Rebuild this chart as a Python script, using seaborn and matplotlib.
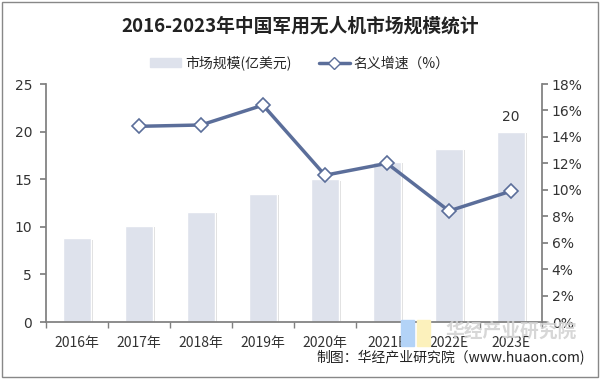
import matplotlib
matplotlib.use("Agg")
import matplotlib.pyplot as plt
import seaborn as sns
import pandas as pd
import numpy as np
from matplotlib.patches import Rectangle
from matplotlib.lines import Line2D
from matplotlib.ticker import FuncFormatter, MultipleLocator, FixedLocator

years = ["2016年", "2017年", "2018年", "2019年", "2020年", "2021E", "2022E", "2023E"]
market = [8.8, 10.1, 11.55, 13.45, 15.0, 16.8, 18.2, 20.0]
growth = [np.nan, 14.8, 14.9, 16.4, 11.1, 12.0, 8.4, 9.9]

sns.set_theme(style="white")
plt.rcParams['font.family'] = ['Noto Sans CJK SC', 'DejaVu Sans']

bar_color = "#DEE2EC"
line_color = "#5B6E9A"
grey = "#7F7F7F"

df = pd.DataFrame({"year": years, "market": market, "growth": growth})

fig = plt.figure(figsize=(6, 3.79), dpi=100)
ax = fig.add_axes([46/600, 57/379, 496/600, 238/379])
x = np.arange(len(years))

# shadows
for xi, v in zip(x, market):
    ax.add_patch(Rectangle((xi - 0.225 + 0.04, 0), 0.45, v - 0.15, color="#C4C4C4", alpha=0.6, zorder=1, lw=0))
sns.barplot(data=df, x="year", y="market", color=bar_color, width=0.45, ax=ax, zorder=2, saturation=1)
ax.set_ylim(0, 25)
ax.set_xlim(-0.5, len(years) - 0.5)
ax.yaxis.set_major_locator(MultipleLocator(5))
ax.set_xlabel("")
ax.set_ylabel("")
ax.text(x[-1], market[-1] + 0.8, f"{market[-1]:.0f}", ha="center", va="bottom", fontsize=10, color="#333333", family="DejaVu Sans")

ax2 = ax.twinx()
sns.lineplot(x=x, y=df["growth"], ax=ax2, color=line_color, lw=2.5, marker="D", markersize=7,
             markerfacecolor="white", markeredgecolor=line_color, markeredgewidth=1.2, zorder=5)
ax2.set_ylim(0, 18)
ax2.yaxis.set_major_locator(MultipleLocator(2))
ax2.yaxis.set_major_formatter(FuncFormatter(lambda v, p: f"{v:.0f}%"))
ax2.set_ylabel("")

for a in (ax, ax2):
    for s in a.spines.values():
        s.set_visible(False)
ax.spines["left"].set_visible(True)
ax.spines["left"].set_color(grey)
ax.spines["bottom"].set_visible(True)
ax.spines["bottom"].set_color(grey)
ax2.spines["right"].set_visible(True)
ax2.spines["right"].set_color(grey)

ax.tick_params(axis="y", left=True, length=4, color=grey, labelsize=10, labelcolor="#333333", pad=6)
ax2.tick_params(axis="y", right=True, length=4, color=grey, labelsize=10, labelcolor="#333333", pad=3)
ax.set_xticks(x)
ax.set_xticklabels(years)
ax.xaxis.set_minor_locator(FixedLocator(np.arange(-0.5, len(years), 1)))
ax.tick_params(axis="x", which="major", bottom=False, labelsize=10, labelcolor="#333333", pad=4)
ax.tick_params(axis="x", which="minor", bottom=True, length=4, color=grey)
for lab in ax.get_yticklabels() + ax2.get_yticklabels():
    lab.set_family("DejaVu Sans")

fig.text(0.5, 1 - 26/379, "2016-2023年中国军用无人机市场规模统计", ha="center", va="center",
         fontsize=13.5, fontweight="bold", color="#222222")

h1 = Rectangle((0, 0), 1, 1, color=bar_color)
h2 = Line2D([], [], color=line_color, lw=2.5, marker="D", markersize=6, markerfacecolor="white", markeredgecolor=line_color)
fig.legend([h1, h2], ["市场规模(亿美元)", "名义增速（%）"], loc="center", bbox_to_anchor=(0.5, 1 - 63/379),
           ncol=2, frameon=False, fontsize=10, handlelength=2.2, columnspacing=2.0, handletextpad=0.3)

# watermark
fig.text(511/600, 1 - 331/379, "华经产业研究院", ha="center", va="center", fontsize=13.5, color="#D0D0D0",
         fontweight="bold", alpha=0.85, zorder=0)
fig.patches.append(Rectangle((401/600, 1 - 346/379), 13/600, 26/379, transform=fig.transFigure, color="#B3D3F7", zorder=0))
fig.patches.append(Rectangle((417/600, 1 - 346/379), 13/600, 26/379, transform=fig.transFigure, color="#FCF1BC", zorder=0))

fig.text(585/600, 1 - 358/379, "制图：华经产业研究院（www.huaon.com)", ha="right", va="center", fontsize=10, color="#222222")

fig.patches.append(Rectangle((2/600, 2/379), 596/600, 375/379, transform=fig.transFigure, fill=False, edgecolor="#888888", lw=1))

fig.savefig("out.png", dpi=100)
